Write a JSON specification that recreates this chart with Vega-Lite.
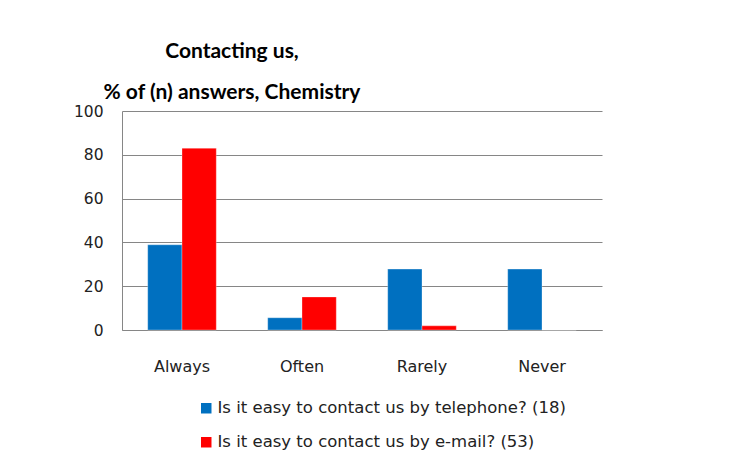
{
  "$schema": "https://vega.github.io/schema/vega-lite/v6.json",
  "autosize": "none",
  "width": 480,
  "height": 219,
  "padding": {"left": 122, "top": 111, "right": 145, "bottom": 138},
  "background": "white",
  "config": {"view": {"stroke": null}, "font": "DejaVu Sans"},
  "title": {
    "text": ["Contacting us,", "% of  (n) answers, Chemistry"],
    "fontSize": 21,
    "fontWeight": "bold",
    "font": "Lato",
    "color": "#000000",
    "anchor": "middle",
    "align": "center",
    "frame": "group",
    "dx": -130,
    "offset": 1,
    "lineHeight": 41
  },
  "data": {
    "values": [
      {"category": "Always", "series": "Is it easy to contact us by telephone? (18)", "value": 38.9},
      {"category": "Often", "series": "Is it easy to contact us by telephone? (18)", "value": 5.6},
      {"category": "Rarely", "series": "Is it easy to contact us by telephone? (18)", "value": 27.8},
      {"category": "Never", "series": "Is it easy to contact us by telephone? (18)", "value": 27.8},
      {"category": "Always", "series": "Is it easy to contact us by e-mail? (53)", "value": 83.0},
      {"category": "Often", "series": "Is it easy to contact us by e-mail? (53)", "value": 15.1},
      {"category": "Rarely", "series": "Is it easy to contact us by e-mail? (53)", "value": 1.9},
      {"category": "Never", "series": "Is it easy to contact us by e-mail? (53)", "value": 0}
    ]
  },
  "mark": {"type": "bar", "stroke": "#ffffff", "strokeWidth": 0.5, "strokeOpacity": 0.6},
  "encoding": {
    "x": {
      "field": "category",
      "type": "nominal",
      "sort": ["Always", "Often", "Rarely", "Never"],
      "scale": {"paddingInner": 0.4286, "paddingOuter": 0.2143},
      "axis": {
        "title": null,
        "labelAngle": 0,
        "labelFont": "DejaVu Sans",
        "labelFontSize": 16,
        "labelColor": "#222222",
        "labelPadding": 28,
        "ticks": false,
        "domain": true,
        "domainColor": "#868686"
      }
    },
    "xOffset": {
      "field": "series",
      "type": "nominal",
      "sort": ["Is it easy to contact us by telephone? (18)", "Is it easy to contact us by e-mail? (53)"],
      "scale": {"paddingInner": 0, "paddingOuter": 0}
    },
    "y": {
      "field": "value",
      "type": "quantitative",
      "scale": {"domain": [0, 100], "nice": false},
      "axis": {
        "title": null,
        "values": [0, 20, 40, 60, 80, 100],
        "labelFont": "DejaVu Sans",
        "labelFontSize": 15.5,
        "labelColor": "#222222",
        "labelPadding": 19,
        "ticks": false,
        "domain": true,
        "domainColor": "#868686",
        "grid": true,
        "gridColor": "#868686",
        "gridWidth": 1
      }
    },
    "color": {
      "field": "series",
      "type": "nominal",
      "sort": ["Is it easy to contact us by telephone? (18)", "Is it easy to contact us by e-mail? (53)"],
      "scale": {"range": ["#0070C0", "#FF0000"]},
      "legend": {
        "title": null,
        "orient": "none",
        "legendX": 76,
        "legendY": 289,
        "symbolType": "square",
        "symbolSize": 110,
        "symbolStrokeWidth": 0,
        "labelFont": "DejaVu Sans",
        "labelFontSize": 16.5,
        "labelColor": "#222222",
        "labelOffset": 3,
        "rowPadding": 17,
        "labelLimit": 450
      }
    }
  }
}
